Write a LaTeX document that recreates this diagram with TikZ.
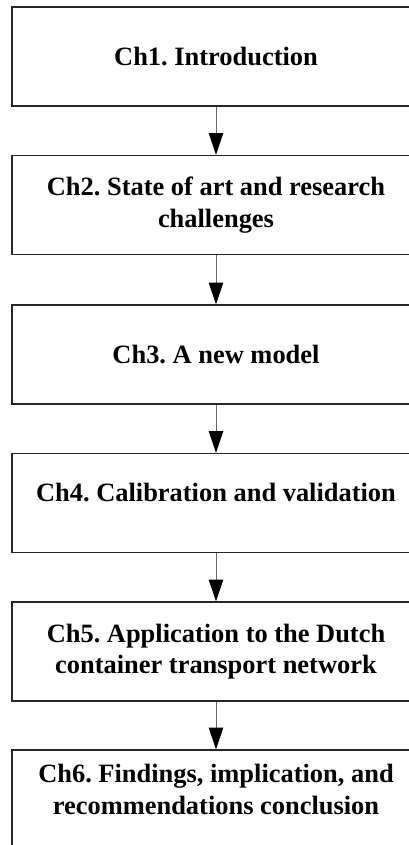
\documentclass[tikz,border=0pt]{standalone}
\usepackage{fontspec}
\setmainfont{Liberation Serif}
\usetikzlibrary{arrows.meta}
\frenchspacing

\tikzset{
  chbox/.style={draw=black!85, line width=1pt, minimum width=10.2cm, minimum height=2.475cm,
    inner sep=0pt, align=center, font=\fontsize{18.8}{22.4}\selectfont\bfseries},
  raised/.style={text depth=0.52cm},
  flow/.style={draw=black!60, line width=0.7pt, -{Triangle[length=5.4mm, width=3.6mm, black]}}
}

\begin{document}
\begin{tikzpicture}
            \clip (0,0) rectangle (10.225,-21.125);
            \draw (5.4, -1.4125) node[chbox] (ch1) {Ch1. Introduction};
            \draw (5.4, -5.125) node[chbox] (ch2) {Ch2. State of art and research\\challenges};
            \draw (5.4, -8.8625) node[chbox] (ch3) {Ch3. A new model};
            \draw (5.4, -12.575) node[chbox, raised] (ch4) {Ch4. Calibration and validation};
            \draw (5.4, -16.2875) node[chbox] (ch5) {Ch5. Application to the Dutch\\container transport network};
            \draw (5.4, -19.9875) node[chbox, raised] (ch6) {Ch6. Findings, implication, and\\recommendations conclusion};

            \draw[flow] (ch1) -- (ch2);
            \draw[flow] (ch2) -- (ch3);
            \draw[flow] (ch3) -- (ch4);
            \draw[flow] (ch4) -- (ch5);
            \draw[flow] (ch5) -- (ch6);
        \end{tikzpicture}
\end{document}
